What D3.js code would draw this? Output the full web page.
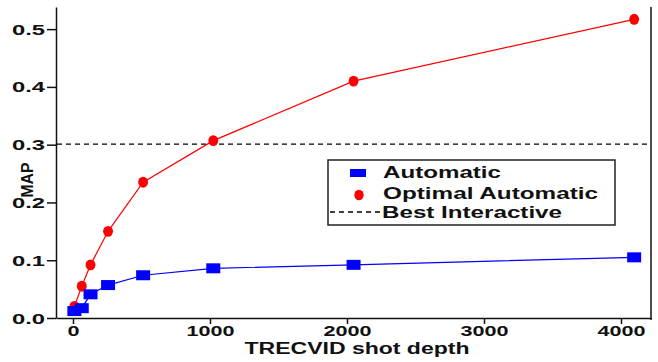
<!DOCTYPE html>
<html>
<head>
<meta charset="utf-8">
<script src="https://cdn.jsdelivr.net/npm/d3@7"></script>
<style>
  body { margin: 0; background: #fff; }
  text { font-family: "Liberation Sans", Arial, sans-serif; font-weight: bold; fill: #111; }
</style>
</head>
<body>
<script>
// data
let depths = [10, 64, 128, 256, 512, 1024, 2048, 4096];
let automatic = [0.012, 0.017, 0.041, 0.057, 0.074, 0.086, 0.092, 0.105];
let optimal = [0.02, 0.055, 0.092, 0.150, 0.235, 0.307, 0.410, 0.517];
let bestInteractive = 0.301;
let xTicks = [0, 1000, 2000, 3000, 4000];
let yTicks = [0, 0.1, 0.2, 0.3, 0.4, 0.5];
let legendLabels = ['Automatic', 'Optimal Automatic', 'Best Interactive'];

let svg = d3.select('body')
  .append('svg')
  .attr('width', 658)
  .attr('height', 362);

let x = d3.scaleLinear().domain([-124, 4219]).range([56, 651]);
let y = d3.scaleLinear().domain([0, 0.5383]).range([318, 7]);

// stretched text widths (the source picture is wide)
function stretch(s, digit, dot) {
  let n = 0;
  for (let c of s) n += (c === '.' ? dot : digit);
  return n;
}

// axes
let xAxis = svg.append('g')
  .attr('transform', 'translate(0,318)')
  .call(d3.axisBottom(x).tickValues(xTicks).tickSize(6).tickSizeOuter(0).tickFormat(d3.format('d')));
let yAxis = svg.append('g')
  .attr('transform', 'translate(56,0)')
  .call(d3.axisLeft(y).tickValues(yTicks).tickSize(9).tickSizeOuter(0).tickFormat(d3.format('.1f')));

[xAxis, yAxis].forEach(g => {
  g.select('.domain').attr('stroke', '#111').attr('stroke-width', 1.5);
  g.selectAll('.tick line').attr('stroke', '#111').attr('stroke-width', 1.5);
});
xAxis.selectAll('.tick text')
  .attr('y', 7)
  .attr('font-size', 15)
  .attr('font-family', '"Liberation Sans", Arial, sans-serif')
  .attr('font-weight', 'bold')
  .attr('textLength', d => stretch(String(d), 12, 9))
  .attr('lengthAdjust', 'spacingAndGlyphs');
yAxis.selectAll('.tick text')
  .attr('x', -11)
  .attr('dy', '0.36em')
  .attr('font-size', 14)
  .attr('font-family', '"Liberation Sans", Arial, sans-serif')
  .attr('font-weight', 'bold')
  .attr('textLength', d => stretch(d3.format('.1f')(d), 12, 9))
  .attr('lengthAdjust', 'spacingAndGlyphs');

// right frame line
svg.append('line')
  .attr('x1', x(4219)).attr('x2', x(4219))
  .attr('y1', y(0.5383)).attr('y2', 320)
  .attr('stroke', '#111')
  .attr('stroke-width', 1.5);

// axis titles
svg.append('text')
  .attr('x', 357)
  .attr('y', 354)
  .attr('text-anchor', 'middle')
  .attr('font-size', 16)
  .attr('textLength', 225)
  .attr('lengthAdjust', 'spacingAndGlyphs')
  .text('TRECVID shot depth');
svg.append('text')
  .attr('transform', 'translate(33,180) rotate(-90)')
  .attr('text-anchor', 'middle')
  .attr('font-size', 16)
  .attr('textLength', 35)
  .attr('lengthAdjust', 'spacingAndGlyphs')
  .text('MAP');

// best interactive reference line
svg.append('line')
  .attr('x1', 57).attr('x2', 650)
  .attr('y1', y(bestInteractive)).attr('y2', y(bestInteractive))
  .attr('stroke', '#000')
  .attr('stroke-width', 1.3)
  .attr('stroke-dasharray', '5,4');

let autoData = depths.map((d, i) => ({ x: d, y: automatic[i] }));
let optData = depths.map((d, i) => ({ x: d, y: optimal[i] }));
let line = d3.line().x(d => x(d.x)).y(d => y(d.y));

svg.append('path').datum(autoData)
  .attr('d', line).attr('fill', 'none').attr('stroke', '#0000ff').attr('stroke-width', 1.2);
svg.append('path').datum(optData)
  .attr('d', line).attr('fill', 'none').attr('stroke', '#ff0000').attr('stroke-width', 1.2);

let hex = d3.symbol().type(d3.symbolCircle).size(85);

svg.selectAll('.opt').data(optData)
  .enter().append('path')
  .attr('class', 'opt')
  .attr('d', hex)
  .attr('transform', d => `translate(${x(d.x)},${y(d.y)}) scale(0.95,1.05)`)
  .attr('fill', '#ff0000');

svg.selectAll('.auto').data(autoData)
  .enter().append('rect')
  .attr('class', 'auto')
  .attr('x', d => x(d.x) - 7)
  .attr('y', d => y(d.y) - 5)
  .attr('width', 14)
  .attr('height', 10)
  .attr('fill', '#0000ff');

// legend
let legend = svg.append('g');
legend.append('rect')
  .attr('x', 328).attr('y', 160)
  .attr('width', 287).attr('height', 65)
  .attr('fill', '#fff')
  .attr('stroke', '#222')
  .attr('stroke-width', 1.5);
legend.append('rect')
  .attr('x', 350).attr('y', 169)
  .attr('width', 16).attr('height', 8)
  .attr('fill', '#0000ff');
legend.append('path')
  .attr('d', hex)
  .attr('transform', 'translate(359,195) scale(0.9,1)')
  .attr('fill', '#ff0000');
legend.append('line')
  .attr('x1', 330).attr('x2', 381)
  .attr('y1', 212).attr('y2', 212)
  .attr('stroke', '#000')
  .attr('stroke-width', 1.3)
  .attr('stroke-dasharray', '5,4');

let legendX = [383, 383, 382];
let legendY = [178, 199, 218];
let legendW = [118, 215, 180];
legend.selectAll('.lt').data(legendLabels)
  .enter().append('text')
  .attr('class', 'lt')
  .attr('x', (d, i) => legendX[i])
  .attr('y', (d, i) => legendY[i])
  .attr('font-size', 16)
  .attr('textLength', (d, i) => legendW[i])
  .attr('lengthAdjust', 'spacingAndGlyphs')
  .text(d => d);
</script>
</body>
</html>
